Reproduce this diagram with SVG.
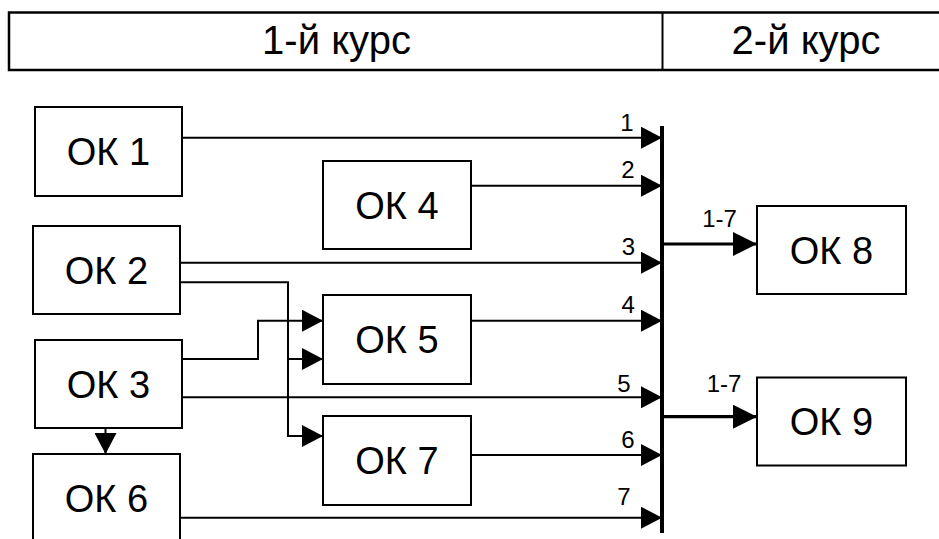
<svg xmlns="http://www.w3.org/2000/svg" width="939" height="539" viewBox="0 0 939 539">
<style>
.box{fill:#fff;stroke:#000;stroke-width:2}
.big{font-family:"Liberation Sans",Arial,sans-serif;font-size:38px;fill:#000;text-anchor:middle}
.hdr{font-family:"Liberation Sans",Arial,sans-serif;font-size:40px;fill:#000;text-anchor:middle}
.num{font-family:"Liberation Sans",Arial,sans-serif;font-size:24px;fill:#000;text-anchor:middle}
.ln{fill:none;stroke:#000;stroke-width:2}
.arr{marker-end:url(#ah)}
.out{fill:none;stroke:#000;stroke-width:3.2;marker-end:url(#ahb)}
</style>
<defs>
<marker id="ah" markerUnits="userSpaceOnUse" markerWidth="21" markerHeight="22" refX="21" refY="11" orient="auto" viewBox="0 0 21 22">
<path d="M0,0 L21,11 L0,22 Z" fill="#000"/>
</marker>
<marker id="ahb" markerUnits="userSpaceOnUse" markerWidth="24" markerHeight="24" refX="24" refY="12" orient="auto" viewBox="0 0 24 24">
<path d="M0,0 L24,12 L0,24 Z" fill="#000"/>
</marker>
</defs>
<rect width="939" height="539" fill="#fff"/>
<g id="header">
<rect x="9" y="12.5" width="940" height="57.5" fill="none" stroke="#000" stroke-width="2.5"/>
<line x1="662.5" y1="12.5" x2="662.5" y2="70" stroke="#000" stroke-width="2"/>
<text class="hdr" x="336.5" y="54">1-й курс</text>
<text class="hdr" x="806" y="54">2-й курс</text>
</g>
<g id="connectors">
<line x1="662" y1="126" x2="662" y2="533" stroke="#000" stroke-width="4"/>
<path class="ln arr" d="M182,137.7 H662"/>
<path class="ln arr" d="M471,185.7 H662"/>
<path class="ln arr" d="M180,262.7 H662"/>
<path class="ln arr" d="M471,320.7 H662"/>
<path class="ln arr" d="M182,397.3 H662"/>
<path class="ln arr" d="M471,455 H662"/>
<path class="ln arr" d="M180,517.7 H662"/>
<path class="ln arr" d="M180,282.3 H288 V436 H323"/>
<path class="ln arr" d="M288,359 H323"/>
<path class="ln arr" d="M182,359 H258 V320.7 H323"/>
<path class="ln arr" d="M105.5,428 V454"/>
<path class="out" d="M662,244 H757"/>
<path class="out" d="M662,416.7 H757"/>
<text class="num" x="627" y="130.7">1</text>
<text class="num" x="628" y="178.3">2</text>
<text class="num" x="628.5" y="255">3</text>
<text class="num" x="628.3" y="313.3">4</text>
<text class="num" x="624" y="391.7">5</text>
<text class="num" x="628" y="448.3">6</text>
<text class="num" x="624" y="505">7</text>
<text class="num" x="719.5" y="226.7">1-7</text>
<text class="num" x="724" y="391.7">1-7</text>
</g>
<g id="ok1"><rect class="box" x="35" y="107" width="147" height="89"/><text class="big" x="108.5" y="165">ОК 1</text></g>
<g id="ok2"><rect class="box" x="33" y="226" width="147" height="88"/><text class="big" x="106.5" y="283.5">ОК 2</text></g>
<g id="ok3"><rect class="box" x="35" y="340" width="147" height="88"/><text class="big" x="108.5" y="397.5">ОК 3</text></g>
<g id="ok4"><rect class="box" x="323" y="161" width="148" height="88"/><text class="big" x="397" y="218.5">ОК 4</text></g>
<g id="ok5"><rect class="box" x="323" y="295" width="148" height="89"/><text class="big" x="397" y="353">ОК 5</text></g>
<g id="ok6"><rect class="box" x="33" y="454" width="147" height="100"/><text class="big" x="106.5" y="511.5">ОК 6</text></g>
<g id="ok7"><rect class="box" x="323" y="416" width="148" height="89"/><text class="big" x="397" y="474">ОК 7</text></g>
<g id="ok8"><rect class="box" x="757" y="206" width="149" height="88"/><text class="big" x="831.5" y="263.5">ОК 8</text></g>
<g id="ok9"><rect class="box" x="757" y="377.5" width="149" height="88"/><text class="big" x="831.5" y="435">ОК 9</text></g>
</svg>
